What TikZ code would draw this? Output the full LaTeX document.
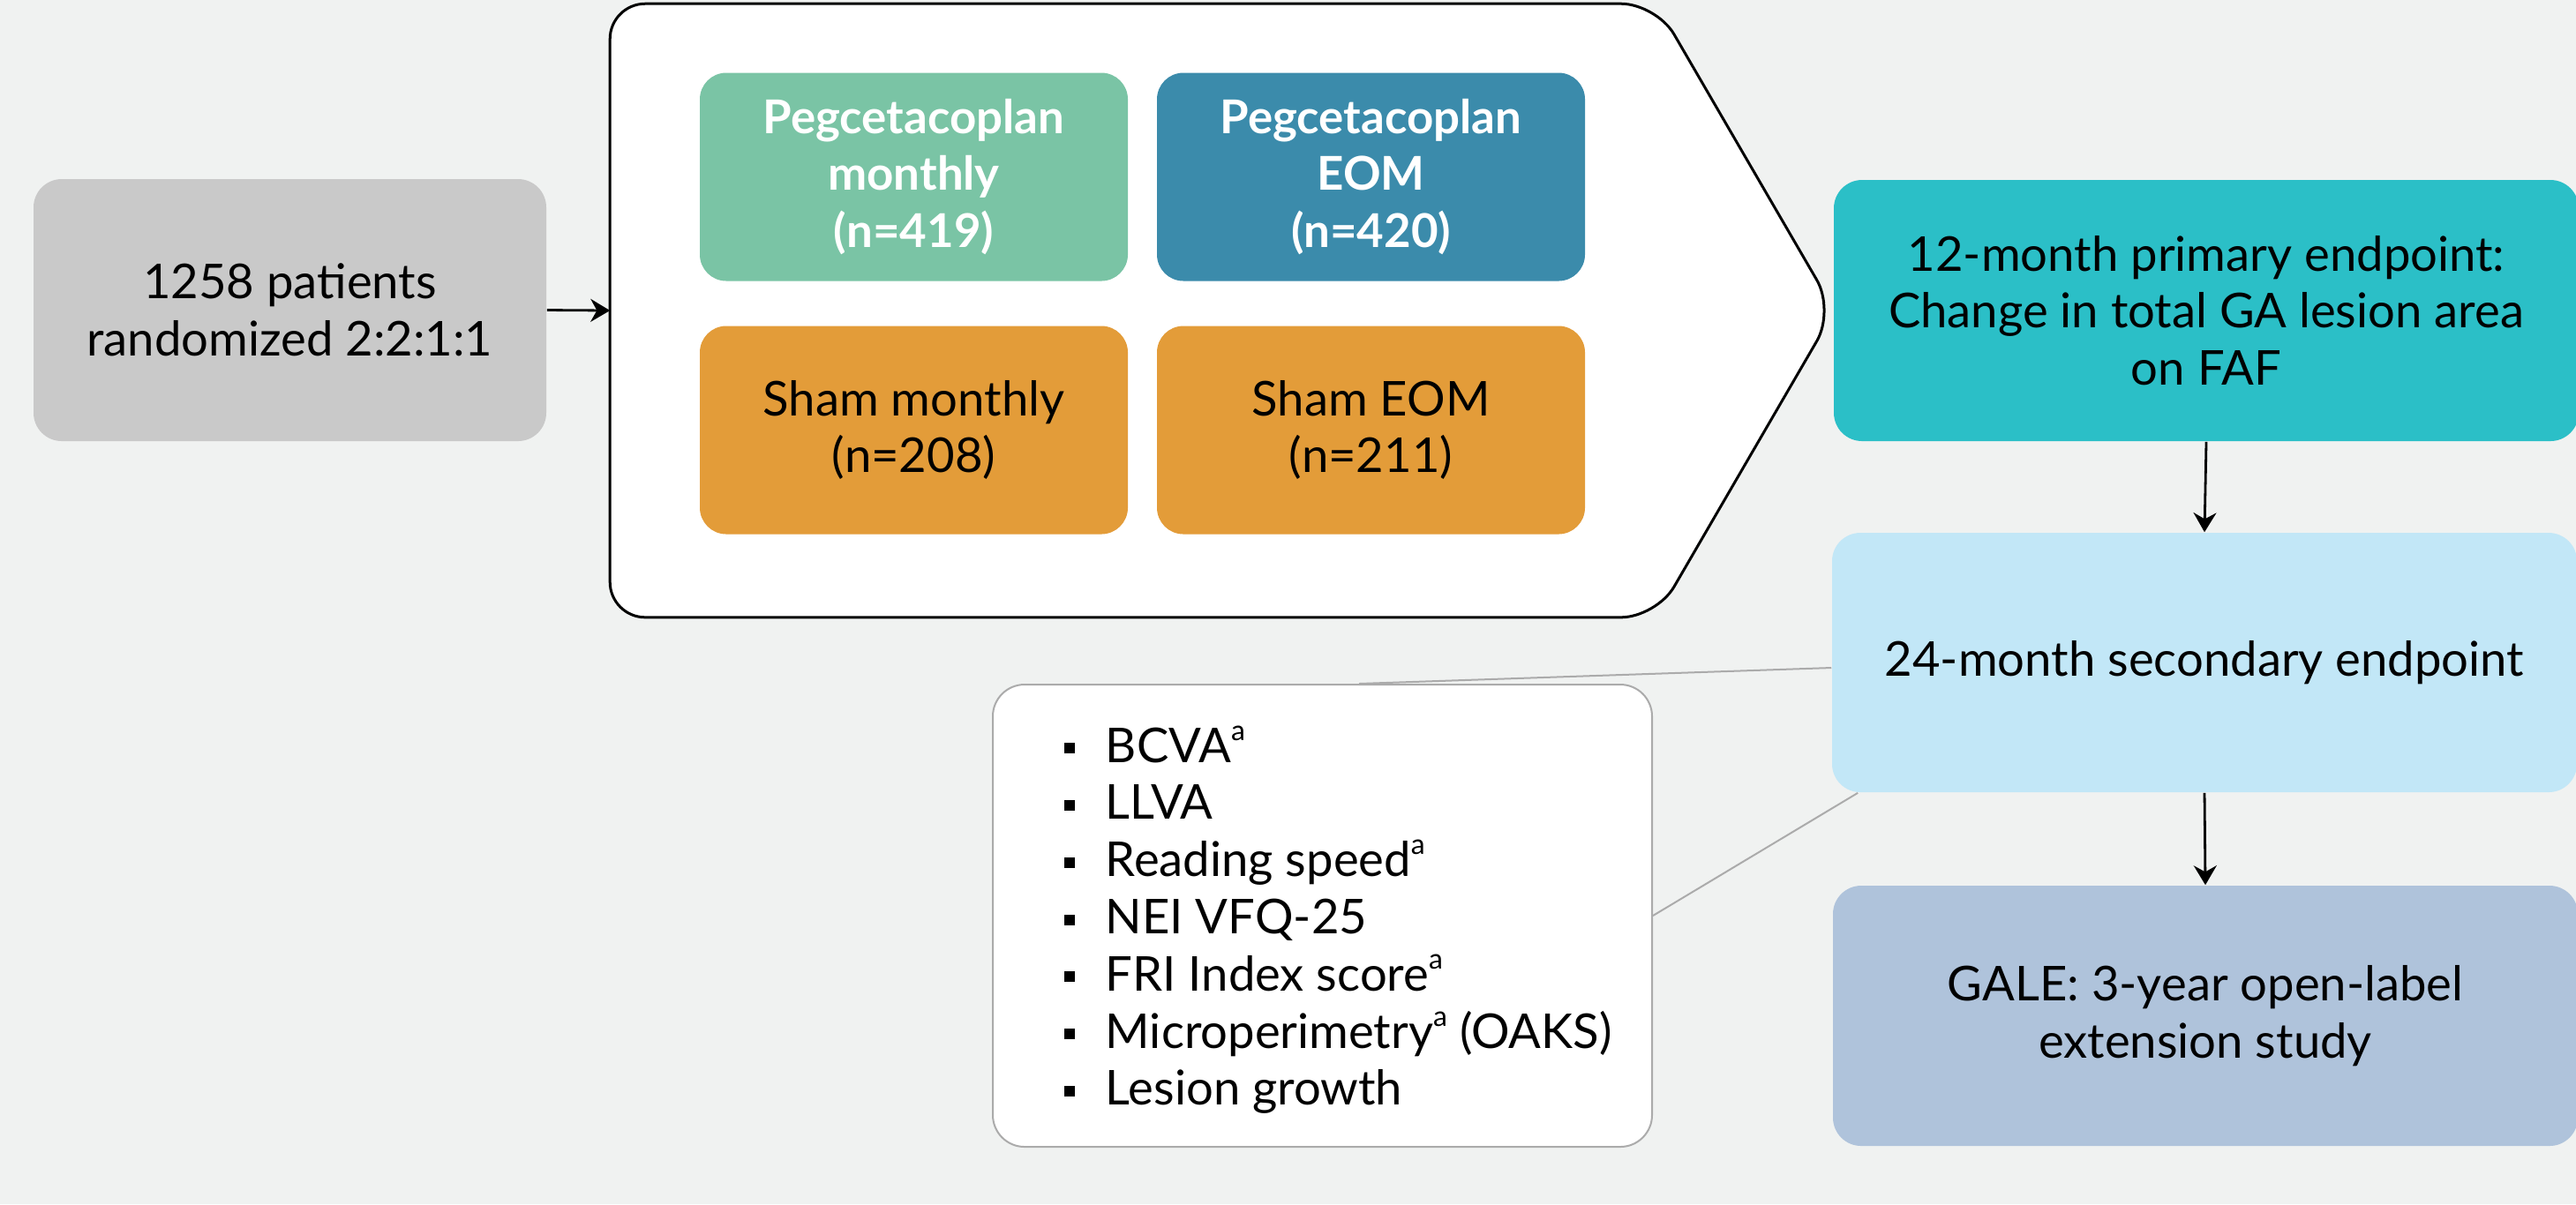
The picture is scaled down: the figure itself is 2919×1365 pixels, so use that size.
\documentclass[tikz,border=0pt]{standalone}
\usepackage{fontspec}
\setmainfont{Lato}
\usetikzlibrary{arrows.meta}
\definecolor{bgc}{HTML}{F0F2F1}
\definecolor{patc}{HTML}{C9C9C9}
\definecolor{pegmc}{HTML}{7AC4A5}
\definecolor{pegec}{HTML}{3B8BAB}
\definecolor{shamc}{HTML}{E39C39}
\definecolor{primc}{HTML}{2BBFC7}
\definecolor{secc}{HTML}{C2E7F7}
\definecolor{galec}{HTML}{AFC3DB}
\definecolor{linec}{HTML}{ABABAB}
\newcommand\sqbul{\rule[2.5pt]{3pt}{3pt}\hspace{8.75pt}}
\newcommand\supa{\raisebox{0.9ex}{\fontsize{8}{8}\selectfont a}}
\begin{document}
\begin{tikzpicture}[x=0.25pt,y=-0.25pt,
  every node/.style={font=\fontsize{13.6}{16.2}\selectfont},
  box/.style={rectangle, rounded corners=8pt, inner sep=0pt, align=center, text=black},
  armbox/.style={box, rounded corners=7.5pt, minimum width=121.25pt, minimum height=59pt},
  pegtext/.style={text=white, font=\fontsize{13.2}{16.2}\selectfont\bfseries},
  endbox/.style={box, minimum width=211pt, minimum height=74pt},
  arr/.style={line width=0.7pt, -{Stealth[length=5.5pt,width=6.5pt,inset=1.8pt]}},
  callout/.style={linec, line width=0.5pt}
]
\fill[bgc] (0,0) rectangle (2919,1365);
\useasboundingbox (0,0) rectangle (2919,1365);

% patients
\node[box, fill=patc, minimum width=145.25pt, minimum height=74.25pt] (pat) at (328.5,351.5)
  {1258 patients\\randomized 2:2:1:1};

% chevron container
\node[inner sep=0pt, minimum width=344pt, minimum height=173.5pt] (arms) at (1380,352) {};
\draw[fill=white, line width=0.75pt, rounded corners=10pt]
  (arms.north west) -- ([xshift=-48pt]arms.north east) -- ([xshift=2.5pt]arms.east)
  -- ([xshift=-48pt]arms.south east) -- (arms.south west) -- cycle;

% arms
\node[armbox, fill=pegmc, pegtext] (pegm) at (1035.5,200.5)
  {Pegcetacoplan\\monthly\\(n=419)};
\node[armbox, fill=pegec, pegtext] (pege) at (1553.5,200.5)
  {Pegcetacoplan\\EOM\\(n=420)};
\node[armbox, fill=shamc] (shamm) at (1035.5,487.5) {Sham monthly\\(n=208)};
\node[armbox, fill=shamc] (shame) at (1553.5,487.5) {Sham EOM\\(n=211)};

% endpoints
\node[endbox, fill=primc] (prim) at (2500,352)
  {12-month primary endpoint:\\Change in total GA lesion area\\on FAF};
\node[endbox, fill=secc, minimum height=73.5pt] (sec) at (2498,751)
  {24-month secondary endpoint};
\node[endbox, fill=galec, minimum height=73.75pt] (gale) at (2499,1151.5)
  {GALE: 3-year open-label\\extension study};

% list
\node[box, draw=linec, line width=0.5pt, fill=white, rounded corners=9pt,
  minimum width=186.75pt, minimum height=131pt] (list) at (1498.5,1038) {};
\node[inner sep=0pt, anchor=west, align=left] (items) at ([xshift=20.25pt,yshift=-1.2pt]list.west)
  {\sqbul BCVA\supa\\
   \sqbul LLVA\\
   \sqbul Reading speed\supa\\
   \sqbul NEI VFQ-25\\
   \sqbul FRI Index score\supa\\
   \sqbul Microperimetry\supa{} (OAKS)\\
   \sqbul Lesion growth};

% connectors
\draw[arr] (pat.east) -- (arms.west);
\draw[arr] (prim.south) -- (sec.north);
\draw[arr] (sec.south) -- (gale.north);
\draw[callout] ([xshift=10.4pt]list.north) -- ([yshift=-1.5pt]sec.west);
\draw[callout] (list.east) -- ([xshift=7.5pt]sec.south west);
\end{tikzpicture}
\end{document}
